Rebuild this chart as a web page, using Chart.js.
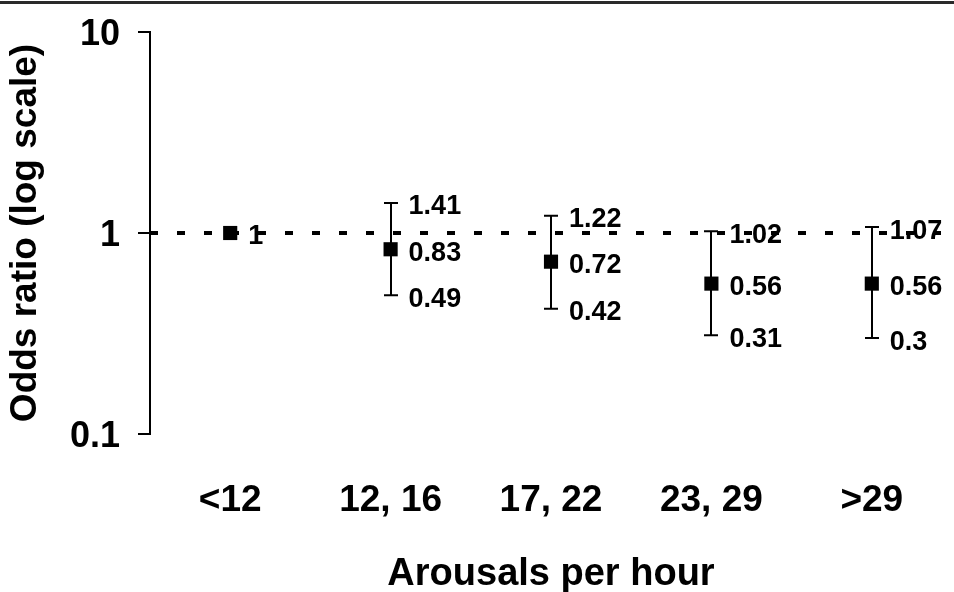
<!DOCTYPE html>
<html>
<head>
<meta charset="utf-8">
<script src="https://cdn.jsdelivr.net/npm/chart.js@4"></script>
<style>
  html, body { margin: 0; padding: 0; background: #ffffff; overflow: hidden; }
  #wrap { width: 954px; height: 592px; position: relative; }
</style>
</head>
<body>
<div id="wrap"><canvas id="c"></canvas></div>
<script>
// ---- data ----
const categories = ['<12', '12, 16', '17, 22', '23, 29', '>29'];
const oddsRatio  = [1, 0.83, 0.72, 0.56, 0.56];
const ciLower    = [1, 0.49, 0.42, 0.31, 0.3];
const ciUpper    = [1, 1.41, 1.22, 1.02, 1.07];
const yTickValues = [0.1, 1, 10];
const referenceValue = 1;

const FONT = "'Liberation Sans', Arial, Helvetica, sans-serif";

const topRule = {
  id: 'topRule',
  beforeDraw(chart) {
    const ctx = chart.ctx;
    ctx.save();
    ctx.fillStyle = '#ffffff';
    ctx.fillRect(0, 0, chart.width, chart.height);
    ctx.strokeStyle = '#2a2a2a';
    ctx.lineWidth = 3;
    ctx.beginPath();
    ctx.moveTo(0, 2.5);
    ctx.lineTo(chart.width, 2.5);
    ctx.stroke();
    ctx.restore();
  }
};

const errorBars = {
  id: 'errorBars',
  beforeDatasetsDraw(chart) {
    const ctx = chart.ctx;
    const xs = chart.scales.x, ys = chart.scales.y;
    ctx.save();
    ctx.strokeStyle = '#000';
    ctx.lineWidth = 2;
    const cap = 7;
    categories.forEach((c, i) => {
      if (ciLower[i] === oddsRatio[i] && ciUpper[i] === oddsRatio[i]) return;
      const x = Math.round(xs.getPixelForValue(i));
      const yl = ys.getPixelForValue(ciLower[i]);
      const yu = ys.getPixelForValue(ciUpper[i]);
      ctx.beginPath();
      ctx.moveTo(x, yu); ctx.lineTo(x, yl);
      ctx.moveTo(x - cap, yu); ctx.lineTo(x + cap, yu);
      ctx.moveTo(x - cap, yl); ctx.lineTo(x + cap, yl);
      ctx.stroke();
    });
    ctx.restore();
  },
  afterDatasetsDraw(chart) {
    const ctx = chart.ctx;
    const xs = chart.scales.x, ys = chart.scales.y;
    ctx.save();
    ctx.fillStyle = '#000';
    ctx.font = 'bold 27px ' + FONT;
    ctx.textAlign = 'left';
    ctx.textBaseline = 'middle';
    const dx = 18, dy = 4;
    categories.forEach((c, i) => {
      const x = xs.getPixelForValue(i);
      ctx.fillText(String(oddsRatio[i]), x + dx, ys.getPixelForValue(oddsRatio[i]) + dy);
      if (ciUpper[i] !== oddsRatio[i]) ctx.fillText(String(ciUpper[i]), x + dx, ys.getPixelForValue(ciUpper[i]) + dy);
      if (ciLower[i] !== oddsRatio[i]) ctx.fillText(String(ciLower[i]), x + dx, ys.getPixelForValue(ciLower[i]) + dy);
    });
    // dashed reference line at OR = 1
    const yr = Math.round(ys.getPixelForValue(referenceValue));
    ctx.strokeStyle = '#000';
    ctx.lineWidth = 4;
    ctx.setLineDash([8, 19]);
    ctx.beginPath();
    ctx.moveTo(chart.chartArea.left, yr);
    ctx.lineTo(chart.width, yr);
    ctx.stroke();
    ctx.restore();
  }
};

new Chart(document.getElementById('c'), {
  type: 'line',
  data: {
    labels: categories,
    datasets: [{
      label: 'Odds ratio',
      data: oddsRatio,
      showLine: false,
      pointStyle: 'rect',
      pointRadius: 10,
      pointHoverRadius: 10,
      pointBackgroundColor: '#000',
      pointBorderColor: '#000',
      pointBorderWidth: 0
    }]
  },
  options: {
    responsive: true,
    maintainAspectRatio: false,
    animation: false,
    events: [],
    layout: { autoPadding: false, padding: { top: 32, right: 2, bottom: 0, left: 0 } },
    plugins: { legend: { display: false }, tooltip: { enabled: false } },
    scales: {
      x: {
        type: 'category',
        offset: true,
        grid: { display: false, drawTicks: false },
        border: { display: false },
        ticks: { color: '#000', font: { family: FONT, size: 37, weight: 'bold', lineHeight: 1.2 }, padding: 45, maxRotation: 0, autoSkip: false },
        title: { display: true, text: 'Arousals per hour', color: '#000', font: { family: FONT, size: 38, weight: 'bold', lineHeight: 0.9 }, padding: { top: 0, bottom: 0 } },
        afterFit(scale) { scale.height = 158; scale.paddingLeft = 0; scale.paddingRight = 0; }
      },
      y: {
        type: 'logarithmic',
        min: 0.1,
        max: 10,
        afterBuildTicks(scale) { scale.ticks = yTickValues.map(v => ({ value: v })); },
        grid: { drawOnChartArea: false, drawTicks: true, tickLength: 12, color: '#000', lineWidth: 2 },
        border: { display: true, color: '#000', width: 2 },
        ticks: {
          color: '#000',
          font: { family: FONT, size: 36, weight: 'bold' },
          padding: 18,
          labelOffset: 3,
          callback: (v) => String(v)
        },
        title: { display: true, text: 'Odds ratio (log scale)', color: '#000', font: { family: FONT, size: 37, weight: 'bold', lineHeight: 1.2 }, padding: { top: 4, bottom: 0 } },
        afterFit(scale) { scale.width = 150; scale.paddingTop = 0; scale.paddingBottom = 0; }
      }
    }
  },
  plugins: [topRule, errorBars]
});
</script>
</body>
</html>
